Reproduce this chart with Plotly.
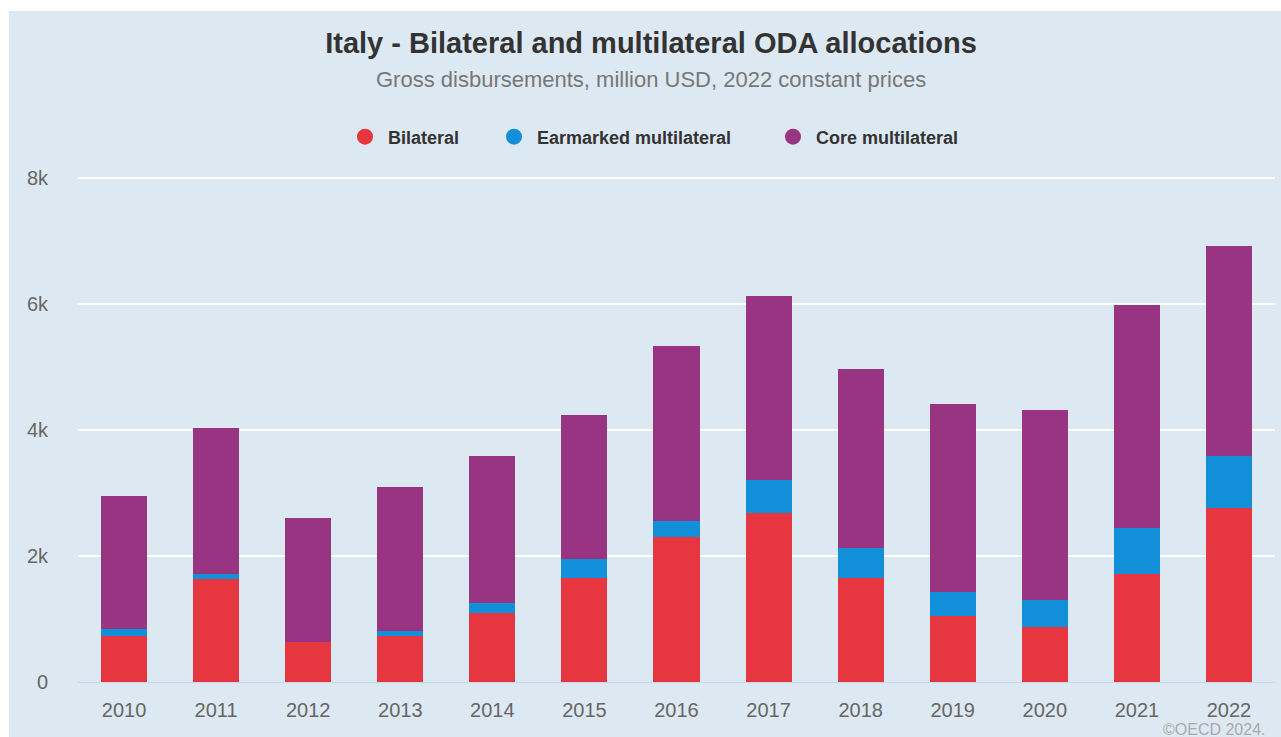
import plotly.graph_objects as go

# Italy ODA allocations, gross disbursements, million USD (2022 constant prices)
years = ["2010", "2011", "2012", "2013", "2014", "2015", "2016",
         "2017", "2018", "2019", "2020", "2021", "2022"]
bilateral = [735, 1635, 640, 735, 1095, 1655, 2300, 2680, 1655, 1052, 873, 1720, 2766]
earmarked = [106, 79, 0, 74, 159, 297, 255, 525, 476, 376, 433, 725, 821]
core = [2111, 2317, 1963, 2286, 2333, 2285, 2777, 2920, 2836, 2984, 3011, 3539, 3332]

series_names = ["Bilateral", "Earmarked multilateral", "Core multilateral"]
series_values = [bilateral, earmarked, core]
series_colors = ["#e63740", "#118fd9", "#993483"]

y_tickvals = [0, 2000, 4000, 6000, 8000]
y_ticktext = ["0", "2k", "4k", "6k", "8k"]

W, H = 1281, 737
Y_MAX = 8020
ML, MR, MB = 78, 6, 55
plot_h = 504 * Y_MAX / 8000
MT = round(H - MB - plot_h)
plot_w = W - ML - MR
plot_h = H - MT - MB

BG = "#dde9f2"
FONT = "Liberation Sans, Arial, sans-serif"

fig = go.Figure()

for name, vals, col in zip(series_names, series_values, series_colors):
    fig.add_trace(go.Bar(
        x=years, y=vals, name=name, marker_color=col,
        marker_line_width=0, showlegend=False,
        hovertemplate="%{x}<br>" + name + ": %{y:,.0f}<extra></extra>",
    ))

# one legend per series so each circle/label pair sits at its own spot
legend_ids = ["legend", "legend2", "legend3"]
legend_left_px = [342, 491, 770]
for name, col, lid in zip(series_names, series_colors, legend_ids):
    fig.add_trace(go.Scatter(
        x=[None], y=[None], mode="markers", name=name, legend=lid,
        marker=dict(color=col, size=17, symbol="circle"),
    ))

def px_x(px):
    return (px - ML) / plot_w

def px_y(py):
    return (H - MB - py) / plot_h

legend_style = dict(
    orientation="h", xanchor="left", xref="container",
    y=1 - 137 / H, yanchor="middle", yref="container",
    font=dict(family=FONT, size=18, color="#333333", weight="bold"),
    bgcolor="rgba(0,0,0,0)", itemclick=False, itemdoubleclick=False,
    itemwidth=36,
)
legend_layout = {
    lid: dict(x=left / W, **legend_style)
    for lid, left in zip(legend_ids, legend_left_px)
}

fig.update_layout(
    width=W, height=H,
    margin=dict(l=ML, r=MR, t=MT, b=MB),
    paper_bgcolor="white",
    plot_bgcolor="rgba(0,0,0,0)",
    barmode="stack",
    bargap=0.5,
    font=dict(family=FONT, color="#666666"),
    title=dict(
        text="Italy - Bilateral and multilateral ODA allocations",
        x=651 / W, xanchor="center", xref="container",
        y=1 - 43 / H, yanchor="middle", yref="container",
        font=dict(family=FONT, size=29, color="#333333", weight="bold"),
    ),
    xaxis=dict(
        type="category",
        showgrid=False,
        showline=True, linecolor="#c9d5e8", linewidth=1,
        tickfont=dict(family=FONT, size=20, color="#666666"),
        ticks="outside", ticklen=10, tickcolor="rgba(0,0,0,0)",
        fixedrange=True,
    ),
    yaxis=dict(
        range=[0, Y_MAX],
        tickvals=y_tickvals, ticktext=y_ticktext,
        showgrid=True, gridcolor="white", gridwidth=2,
        zeroline=False,
        tickfont=dict(family=FONT, size=20, color="#666666"),
        ticks="outside", ticklen=25, tickcolor="rgba(0,0,0,0)",
        fixedrange=True,
    ),
    shapes=[dict(
        type="rect", xref="paper", yref="paper",
        x0=px_x(9), x1=px_x(W + 2), y0=px_y(H + 2), y1=px_y(11),
        fillcolor=BG, line_width=0, layer="below",
    )],
    annotations=[
        dict(
            text="Gross disbursements, million USD, 2022 constant prices",
            xref="paper", yref="paper", x=px_x(651), y=px_y(79),
            xanchor="center", yanchor="middle", showarrow=False,
            font=dict(family=FONT, size=22, color="#777777"),
        ),
        dict(
            text="©OECD 2024.",
            xref="paper", yref="paper", x=px_x(1268), y=px_y(729),
            xanchor="right", yanchor="middle", showarrow=False,
            font=dict(family=FONT, size=16, color="#aaaaaa"),
        ),
    ],
    **legend_layout,
)

fig.write_html("out.html")
